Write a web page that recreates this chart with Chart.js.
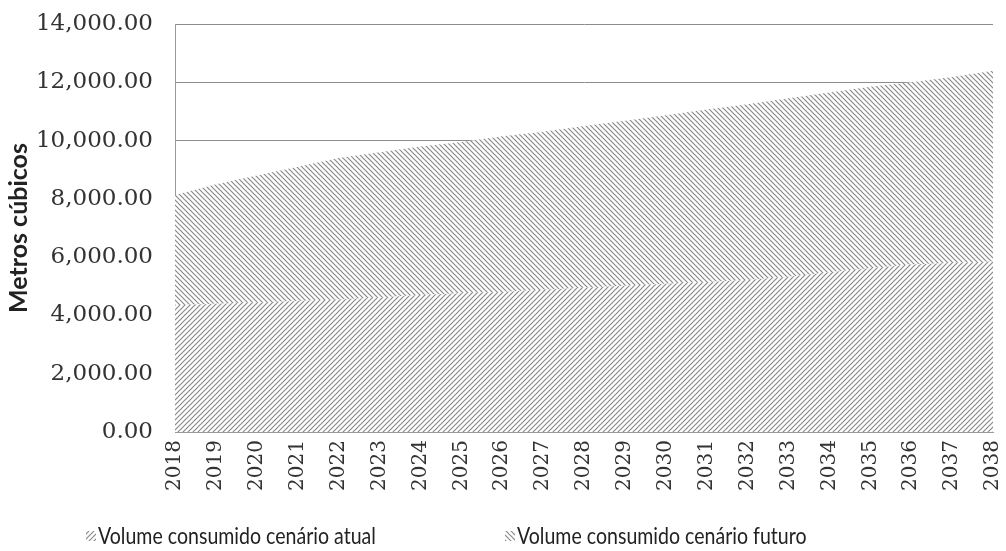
<!DOCTYPE html>
<html>
<head>
<meta charset="utf-8">
<script src="https://cdn.jsdelivr.net/npm/chart.js@4/dist/chart.umd.min.js"></script>
<style>
  html, body { margin: 0; padding: 0; background: #fff; }
  #wrap { width: 1006px; height: 551px; position: relative; }
</style>
</head>
<body>
<div id="wrap"><canvas id="chartVolume"></canvas></div>
<script>
const years = ["2018", "2019", "2020", "2021", "2022", "2023", "2024", "2025", "2026", "2027",
  "2028", "2029", "2030", "2031", "2032", "2033", "2034", "2035", "2036", "2037", "2038"];

// volume consumido, cenário atual (m³)
const atual = [4350, 4400, 4450, 4500, 4550, 4620, 4700, 4760, 4810, 4880,
  4950, 5020, 5090, 5150, 5220, 5330, 5480, 5620, 5750, 5800, 5850];

// acréscimo do cenário futuro, empilhado sobre o atual (m³)
const futuro = [3780, 4100, 4350, 4600, 4850, 4980, 5100, 5190, 5340, 5420,
  5550, 5660, 5780, 5920, 6030, 6120, 6170, 6230, 6250, 6380, 6550];

const seriesNames = ["Volume consumido cenário atual", "Volume consumido cenário futuro"];

const canvas = document.getElementById("chartVolume");
const ctx = canvas.getContext("2d");

function hatch(dir) {
  const s = 5;
  const c = document.createElement("canvas");
  c.width = s; c.height = s;
  const g = c.getContext("2d");
  g.fillStyle = "#fff";
  g.fillRect(0, 0, s, s);
  g.strokeStyle = "#8a8a8a";
  g.lineWidth = 1.2;
  g.beginPath();
  if (dir === "/") {
    g.moveTo(-1, s + 1); g.lineTo(s + 1, -1);
    g.moveTo(-1, 1); g.lineTo(1, -1);
    g.moveTo(s - 1, s + 1); g.lineTo(s + 1, s - 1);
  } else {
    g.moveTo(-1, -1); g.lineTo(s + 1, s + 1);
    g.moveTo(-1, s - 1); g.lineTo(1, s + 1);
    g.moveTo(s - 1, -1); g.lineTo(s + 1, 1);
  }
  g.stroke();
  return ctx.createPattern(c, "repeat");
}

const patAtual = hatch("/");
const patFuturo = hatch("\\");

// legenda desenhada à mão, embaixo
const bottomLegend = {
  id: "bottomLegend",
  afterDraw(chart) {
    const c = chart.ctx;
    const items = [
      { x: 86, pat: patAtual, text: seriesNames[0] },
      { x: 505, pat: patFuturo, text: seriesNames[1] },
    ];
    items.forEach((it) => {
      c.save();
      c.fillStyle = it.pat;
      c.fillRect(it.x, 531, 10, 10);
      c.translate(it.x + 12, 537);
      c.scale(0.85, 1);
      c.font = "23px 'Lato', sans-serif";
      c.textBaseline = "middle";
      c.fillStyle = "#222";
      c.fillText(it.text, 0, 0);
      c.restore();
    });
  },
};

new Chart(ctx, {
  type: "line",
  data: {
    labels: years,
    datasets: [
      {
        label: seriesNames[0],
        data: atual,
        fill: "origin",
        backgroundColor: patAtual,
        borderWidth: 0,
        pointRadius: 0,
        tension: 0,
      },
      {
        label: seriesNames[1],
        data: futuro,
        fill: "-1",
        backgroundColor: patFuturo,
        borderWidth: 0,
        pointRadius: 0,
        tension: 0,
      },
    ],
  },
  options: {
    responsive: true,
    maintainAspectRatio: false,
    animation: false,
    layout: { padding: { top: 24, right: 13, bottom: 52, left: 4 } },
    plugins: {
      legend: { display: false },
      tooltip: { enabled: false },
    },
    scales: {
      x: {
        offset: false,
        afterFit: (scale) => { scale.paddingRight = 0; },
        grid: { display: false, drawTicks: false },
        border: { display: true, color: "#9a9a9a", width: 1 },
        ticks: {
          maxRotation: 90,
          minRotation: 90,
          padding: 8,
          color: "#333",
          font: { family: "'DejaVu Serif', serif", size: 20 },
        },
      },
      y: {
        stacked: true,
        min: 0,
        max: 14000,
        afterFit: (scale) => { scale.width = 171; scale.paddingTop = 0; },
        grid: { color: "#8c8c8c", lineWidth: 1, drawTicks: false },
        border: { display: true, color: "#9a9a9a", width: 1 },
        ticks: {
          stepSize: 2000,
          padding: 22,
          color: "#333",
          font: { family: "'DejaVu Serif', serif", size: 23 },
          callback: (v) =>
            Number(v).toLocaleString("en-US", { minimumFractionDigits: 2, maximumFractionDigits: 2 }),
        },
        title: {
          display: true,
          text: "Metros cúbicos",
          color: "#222",
          padding: { top: 0, bottom: 2 },
          font: { family: "'Lato', sans-serif", size: 25, weight: "bold" },
        },
      },
    },
  },
  plugins: [bottomLegend],
});
</script>
</body>
</html>
